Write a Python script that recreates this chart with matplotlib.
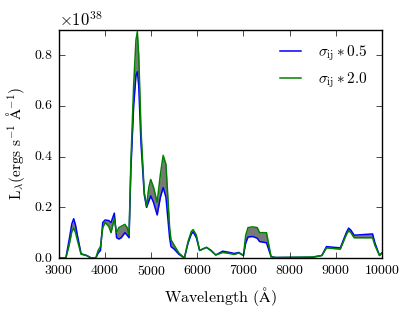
import matplotlib
matplotlib.use('Agg')
import matplotlib.pyplot as plt
import matplotlib.ticker as mticker
import numpy as np

# Длины волн (Å) и светимость для двух вариантов сечения (единицы 1e38)
wavelength = [3000, 3150, 3220, 3280, 3320, 3360, 3400, 3480, 3600, 3700,
              3800, 3850, 3900, 3950, 4000, 4080, 4130, 4200, 4250, 4300,
              4350, 4430, 4480, 4520, 4560, 4620, 4670, 4700, 4730, 4780,
              4850, 4900, 4950, 4990, 5050, 5130, 5200, 5260, 5320, 5400,
              5430, 5500, 5600, 5720, 5800, 5870, 5910, 5980, 6050, 6200,
              6300, 6400, 6550, 6700, 6800, 6900, 7000, 7050, 7100, 7200,
              7300, 7350, 7500, 7600, 7700, 8500, 8700, 8800, 9100, 9230,
              9280, 9330, 9400, 9800, 9850, 9950, 10000]
lum_half = [0.0, 0.0, 0.07, 0.135, 0.155, 0.13, 0.09, 0.017, 0.01, 0.0,
            0.0, 0.02, 0.03, 0.14, 0.15, 0.148, 0.14, 0.177, 0.08, 0.075,
            0.08, 0.10, 0.09, 0.08, 0.35, 0.6, 0.72, 0.735, 0.68, 0.45,
            0.25, 0.2, 0.225, 0.245, 0.22, 0.17, 0.24, 0.278, 0.24, 0.08,
            0.045, 0.035, 0.015, 0.0, 0.06, 0.095, 0.103, 0.08, 0.03, 0.042,
            0.03, 0.012, 0.027, 0.022, 0.018, 0.022, 0.01, 0.06, 0.083, 0.085,
            0.078, 0.065, 0.06, 0.005, 0.002, 0.003, 0.01, 0.045, 0.04, 0.1,
            0.118, 0.11, 0.09, 0.095, 0.06, 0.01, 0.02]
lum_double = [0.0, 0.0, 0.05, 0.105, 0.118, 0.1, 0.07, 0.015, 0.01, 0.0,
              0.0, 0.03, 0.045, 0.12, 0.14, 0.125, 0.10, 0.155, 0.10, 0.12,
              0.125, 0.133, 0.12, 0.09, 0.38, 0.68, 0.86, 0.893, 0.8, 0.5,
              0.26, 0.205, 0.28, 0.31, 0.28, 0.22, 0.33, 0.405, 0.37, 0.12,
              0.072, 0.05, 0.02, 0.0, 0.065, 0.105, 0.112, 0.09, 0.03, 0.042,
              0.028, 0.012, 0.022, 0.018, 0.014, 0.02, 0.01, 0.09, 0.12, 0.123,
              0.12, 0.10, 0.10, 0.005, 0.002, 0.004, 0.01, 0.04, 0.035, 0.092,
              0.108, 0.1, 0.08, 0.08, 0.05, 0.01, 0.02]


# Форматтер с фиксированным порядком 10^38
class FixedOrderFormatter(mticker.ScalarFormatter):
    def __init__(self, order):
        self.order = order
        super().__init__(useMathText=True)

    def _set_order_of_magnitude(self):
        self.orderOfMagnitude = self.order


plt.style.use('classic')
plt.rcParams['font.family'] = 'serif'
plt.rcParams['font.serif'] = ['cmr10', 'DejaVu Serif']
plt.rcParams['mathtext.fontset'] = 'cm'
plt.rcParams['axes.formatter.use_mathtext'] = True
plt.rcParams['axes.unicode_minus'] = False

wl = np.array(wavelength)
y1 = np.array(lum_half) * 1e38
y2 = np.array(lum_double) * 1e38

fig = plt.figure(figsize=(4.15, 3.12), dpi=100, facecolor='white')
ax = fig.add_axes([0.142, 0.173, 0.778, 0.731])

ax.fill_between(wl, y1, y2, color='0.47', linewidth=0)
ax.plot(wl, y1, color='b', lw=1.1, label=r'$\sigma_{\rm ij} * 0.5$')
ax.plot(wl, y2, color='g', lw=1.1, label=r'$\sigma_{\rm ij} * 2.0$')

ax.set_xlim(3000, 10000)
ax.set_ylim(0, 0.9e38)
ax.set_yticks(np.arange(0, 0.81e38, 0.2e38))
ax.yaxis.set_major_formatter(FixedOrderFormatter(38))
ax.tick_params(labelsize=10)
ax.yaxis.get_offset_text().set_fontsize(12)

ax.set_xlabel(r'Wavelength ($\mathrm{\AA}$)', fontsize=11.5)
ax.set_ylabel(r'$\mathrm{L_{\lambda} (ergs\ s^{-1}\ \AA^{-1})}$', fontsize=11)
ax.legend(loc='upper right', frameon=False, fontsize=11, handlelength=2.0)

fig.savefig('out.png', dpi=100, facecolor='white')
